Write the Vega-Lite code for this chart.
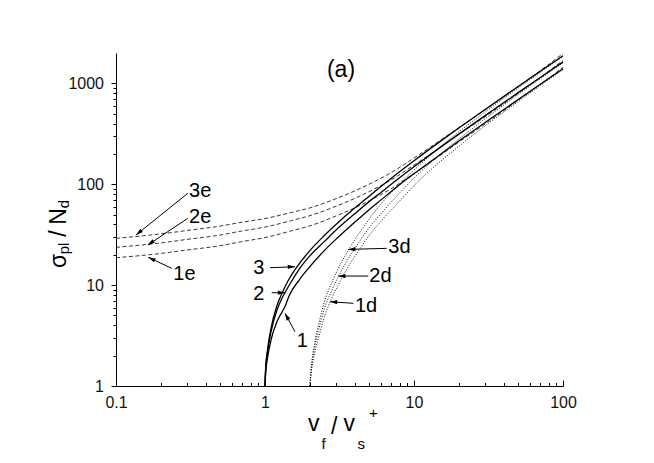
{
  "$schema": "https://vega.github.io/schema/vega-lite/v6.json",
  "width": 447,
  "height": 333,
  "autosize": {"type": "none"},
  "padding": {"left": 116, "top": 53, "right": 91, "bottom": 77},
  "background": "white",
  "config": {
    "view": {"stroke": null},
    "font": "Liberation Sans",
    "axis": {"domainColor": "#000", "tickColor": "#000", "labelColor": "#111", "labelFontWeight": "normal", "domainWidth": 1, "tickWidth": 1, "grid": false, "labelFont": "Liberation Sans", "labelFontSize": 16, "labelFlush": false, "labelOverlap": false}
  },
  "datasets": {
    "solid": [
      {"s":"3","x":1,"y":1},{"s":"3","x":1.01,"y":1.5},{"s":"3","x":1.04,"y":2.3},{"s":"3","x":1.1,"y":3.8},{"s":"3","x":1.2,"y":6.2},{"s":"3","x":1.3,"y":8.3},{"s":"3","x":1.45,"y":11.5},{"s":"3","x":1.63,"y":15},{"s":"3","x":2,"y":22},{"s":"3","x":2.5,"y":31},{"s":"3","x":3.11,"y":42},{"s":"3","x":4,"y":58},{"s":"3","x":4.67,"y":70},{"s":"3","x":6,"y":95},{"s":"3","x":8,"y":133},{"s":"3","x":10,"y":171},{"s":"3","x":15,"y":266},{"s":"3","x":20,"y":361},{"s":"3","x":30,"y":551},{"s":"3","x":50,"y":931},{"s":"3","x":70,"y":1311},{"s":"3","x":100,"y":1880},
      {"s":"2","x":1,"y":1},{"s":"2","x":1.01,"y":1.45},{"s":"2","x":1.04,"y":2.15},{"s":"2","x":1.1,"y":3.5},{"s":"2","x":1.2,"y":5.6},{"s":"2","x":1.3,"y":7.4},{"s":"2","x":1.36,"y":8.4},{"s":"2","x":1.5,"y":10.8},{"s":"2","x":1.73,"y":15},{"s":"2","x":2,"y":19.5},{"s":"2","x":2.5,"y":27},{"s":"2","x":3.11,"y":37},{"s":"2","x":4,"y":51},{"s":"2","x":5.17,"y":70},{"s":"2","x":6,"y":83},{"s":"2","x":8,"y":116},{"s":"2","x":10,"y":149},{"s":"2","x":15,"y":232},{"s":"2","x":20,"y":314},{"s":"2","x":30,"y":479},{"s":"2","x":50,"y":809},{"s":"2","x":70,"y":1139},{"s":"2","x":100,"y":1634},
      {"s":"1","x":1,"y":1},{"s":"1","x":1.01,"y":1.35},{"s":"1","x":1.04,"y":1.9},{"s":"1","x":1.1,"y":2.9},{"s":"1","x":1.2,"y":4.3},{"s":"1","x":1.3,"y":5.4},{"s":"1","x":1.36,"y":6.1},{"s":"1","x":1.455,"y":7.9},{"s":"1","x":1.7,"y":11.3},{"s":"1","x":1.95,"y":14.6},{"s":"1","x":2.5,"y":22},{"s":"1","x":3.11,"y":30},{"s":"1","x":4,"y":42},{"s":"1","x":5,"y":56},{"s":"1","x":5.73,"y":66},{"s":"1","x":8,"y":99},{"s":"1","x":10,"y":127},{"s":"1","x":15,"y":197},{"s":"1","x":20,"y":268},{"s":"1","x":30,"y":409},{"s":"1","x":50,"y":691},{"s":"1","x":70,"y":973},{"s":"1","x":100,"y":1396}
    ],
    "dashed": [
      {"s":"3e","x":0.1,"y":29.1},{"s":"3e","x":0.2,"y":32.2},{"s":"3e","x":0.3,"y":34.8},{"s":"3e","x":0.5,"y":38.5},{"s":"3e","x":0.7,"y":42},{"s":"3e","x":1,"y":45.7},{"s":"3e","x":1.5,"y":52.5},{"s":"3e","x":2,"y":58.3},{"s":"3e","x":3,"y":72},{"s":"3e","x":5,"y":100},{"s":"3e","x":7,"y":130},{"s":"3e","x":10,"y":182},{"s":"3e","x":15,"y":272},{"s":"3e","x":20,"y":365},{"s":"3e","x":30,"y":545},{"s":"3e","x":50,"y":930},{"s":"3e","x":70,"y":1330},{"s":"3e","x":100,"y":1977},
      {"s":"2e","x":0.1,"y":23.7},{"s":"2e","x":0.2,"y":26.2},{"s":"2e","x":0.3,"y":28.4},{"s":"2e","x":0.5,"y":31.4},{"s":"2e","x":0.7,"y":34.4},{"s":"2e","x":1,"y":37.6},{"s":"2e","x":1.5,"y":43.6},{"s":"2e","x":2,"y":48.8},{"s":"2e","x":3,"y":60.5},{"s":"2e","x":5,"y":84.5},{"s":"2e","x":7,"y":110},{"s":"2e","x":10,"y":155},{"s":"2e","x":15,"y":232},{"s":"2e","x":20,"y":312},{"s":"2e","x":30,"y":466},{"s":"2e","x":50,"y":796},{"s":"2e","x":70,"y":1138},{"s":"2e","x":100,"y":1690},
      {"s":"1e","x":0.1,"y":18.7},{"s":"1e","x":0.2,"y":20.6},{"s":"1e","x":0.3,"y":22.3},{"s":"1e","x":0.5,"y":24.6},{"s":"1e","x":0.7,"y":27},{"s":"1e","x":1,"y":29.6},{"s":"1e","x":1.5,"y":34.5},{"s":"1e","x":2,"y":38.7},{"s":"1e","x":3,"y":48.5},{"s":"1e","x":5,"y":68.5},{"s":"1e","x":7,"y":90},{"s":"1e","x":10,"y":128},{"s":"1e","x":15,"y":193},{"s":"1e","x":20,"y":262},{"s":"1e","x":30,"y":395},{"s":"1e","x":50,"y":680},{"s":"1e","x":70,"y":970},{"s":"1e","x":100,"y":1440}
    ],
    "dotted": [
      {"s":"3d","x":2,"y":1},{"s":"3d","x":2.05,"y":1.6},{"s":"3d","x":2.15,"y":2.6},{"s":"3d","x":2.3,"y":4.2},{"s":"3d","x":2.5,"y":6.8},{"s":"3d","x":2.8,"y":10.5},{"s":"3d","x":3.2,"y":16},{"s":"3d","x":3.64,"y":22.4},{"s":"3d","x":4.3,"y":33},{"s":"3d","x":5,"y":45},{"s":"3d","x":5.9,"y":62},{"s":"3d","x":7,"y":82},{"s":"3d","x":8.5,"y":110},{"s":"3d","x":10,"y":138},{"s":"3d","x":15,"y":235},{"s":"3d","x":20,"y":330},{"s":"3d","x":30,"y":520},{"s":"3d","x":50,"y":900},{"s":"3d","x":70,"y":1280},{"s":"3d","x":100,"y":1850},
      {"s":"2d","x":2,"y":1},{"s":"2d","x":2.05,"y":1.5},{"s":"2d","x":2.15,"y":2.4},{"s":"2d","x":2.3,"y":3.7},{"s":"2d","x":2.5,"y":5.8},{"s":"2d","x":2.8,"y":8.8},{"s":"2d","x":3.11,"y":12.2},{"s":"2d","x":3.6,"y":18},{"s":"2d","x":4.3,"y":27},{"s":"2d","x":5,"y":37},{"s":"2d","x":6,"y":51},{"s":"2d","x":7,"y":66},{"s":"2d","x":8.5,"y":90},{"s":"2d","x":10,"y":115},{"s":"2d","x":15,"y":198},{"s":"2d","x":20,"y":280},{"s":"2d","x":30,"y":445},{"s":"2d","x":50,"y":775},{"s":"2d","x":70,"y":1105},{"s":"2d","x":100,"y":1600},
      {"s":"1d","x":2,"y":1},{"s":"1d","x":2.05,"y":1.4},{"s":"1d","x":2.15,"y":2.1},{"s":"1d","x":2.3,"y":3.1},{"s":"1d","x":2.5,"y":4.8},{"s":"1d","x":2.73,"y":6.8},{"s":"1d","x":3.1,"y":10},{"s":"1d","x":3.6,"y":15},{"s":"1d","x":4.3,"y":22.5},{"s":"1d","x":5,"y":31},{"s":"1d","x":6,"y":43},{"s":"1d","x":7,"y":55},{"s":"1d","x":8.5,"y":75},{"s":"1d","x":10,"y":97},{"s":"1d","x":15,"y":168},{"s":"1d","x":20,"y":238},{"s":"1d","x":30,"y":380},{"s":"1d","x":50,"y":660},{"s":"1d","x":70,"y":945},{"s":"1d","x":100,"y":1370}
    ],
    "arrows": [
      {"id":"3e","x1":0.303,"y1":81.2,"x2":0.1362,"y2":31.4,"dir":231},
      {"id":"2e","x1":0.303,"y1":45.9,"x2":0.1632,"y2":24.97,"dir":236},
      {"id":"1e","x1":0.2365,"y1":14.67,"x2":0.1647,"y2":18.86,"dir":295},
      {"id":"3","x1":1.08,"y1":14.87,"x2":1.59,"y2":15.22,"dir":88},
      {"id":"2","x1":1.109,"y1":8.41,"x2":1.362,"y2":8.41,"dir":90},
      {"id":"1","x1":1.59,"y1":3.452,"x2":1.362,"y2":5.254,"dir":331},
      {"id":"3d","x1":6.56,"y1":23.15,"x2":3.62,"y2":22.6,"dir":268},
      {"id":"2d","x1":4.935,"y1":12.3,"x2":3.1,"y2":12.3,"dir":270},
      {"id":"1d","x1":3.914,"y1":6.6,"x2":2.73,"y2":6.85,"dir":274}
    ],
    "labels": [
      {"t":"3e","x":0.309,"y":74.7},
      {"t":"2e","x":0.309,"y":41.0},
      {"t":"1e","x":0.2424,"y":11.23},
      {"t":"3","x":0.8346,"y":12.88},
      {"t":"2","x":0.8346,"y":7.116},
      {"t":"1","x":1.632,"y":2.452},
      {"t":"3d","x":6.72,"y":20.66},
      {"t":"2d","x":5.01,"y":10.81},
      {"t":"1d","x":4.018,"y":5.45}
    ],
    "panel": [{"t":"(a)","x":3.236,"y":1163}],
    "xtb": [
      {"t":"v","x":1.944,"y":0.3585},
      {"t":"/","x":2.773,"y":0.3345},
      {"t":"v","x":3.364,"y":0.3585}
    ],
    "xts": [
      {"t":"f","x":2.394,"y":0.2379},
      {"t":"s","x":4.176,"y":0.2379},
      {"t":"+","x":4.989,"y":0.4818}
    ],
    "ytb": [
      {"t":"σ","x":0.04617,"y":14.77},
      {"t":"/","x":0.04617,"y":30.1},
      {"t":"N","x":0.04617,"y":39.68}
    ],
    "yts": [
      {"t":"pl","x":0.04874,"y":20.24},
      {"t":"d","x":0.04874,"y":57.97}
    ]
  },
  "resolve": {"axis": {"x": "independent", "y": "independent"}},
  "layer": [
    {
      "data": {"name": "dotted"},
      "mark": {"type": "line", "strokeDash": [1, 1.6], "strokeWidth": 1, "color": "#111", "interpolate": "monotone"},
      "encoding": {
        "x": {"field": "x", "type": "quantitative", "scale": {"type": "log", "domain": [0.1, 100], "nice": false}, "axis": null},
        "y": {"field": "y", "type": "quantitative", "scale": {"type": "log", "domain": [1, 2000], "nice": false}, "axis": null},
        "detail": {"field": "s"}
      }
    },
    {
      "data": {"name": "dashed"},
      "mark": {"type": "line", "strokeDash": [4, 2.5], "strokeWidth": 0.9, "color": "#222", "interpolate": "monotone"},
      "encoding": {
        "x": {"field": "x", "type": "quantitative", "scale": {"type": "log", "domain": [0.1, 100], "nice": false}, "axis": null},
        "y": {"field": "y", "type": "quantitative", "scale": {"type": "log", "domain": [1, 2000], "nice": false}, "axis": null},
        "detail": {"field": "s"}
      }
    },
    {
      "data": {"name": "solid"},
      "mark": {"type": "line", "strokeWidth": 1.3, "color": "#000", "interpolate": "monotone"},
      "encoding": {
        "x": {"field": "x", "type": "quantitative", "scale": {"type": "log", "domain": [0.1, 100], "nice": false},
          "axis": {"orient": "bottom", "values": [0.1, 1, 10, 100], "format": "~g", "title": null, "tickSize": -6, "labelPadding": 14}},
        "y": {"field": "y", "type": "quantitative", "scale": {"type": "log", "domain": [1, 2000], "nice": false},
          "axis": {"orient": "left", "values": [1, 10, 100, 1000], "format": "~g", "title": null, "tickSize": 5, "labelPadding": 7.5}},
        "detail": {"field": "s"}
      }
    },
    {
      "data": {"name": "arrows"},
      "mark": {"type": "rule", "strokeWidth": 1, "color": "#000"},
      "encoding": {
        "x": {"field": "x1", "type": "quantitative", "scale": {"type": "log", "domain": [0.1, 100], "nice": false},
          "axis": {"orient": "bottom", "values": [0.2,0.3,0.4,0.5,0.6,0.7,0.8,0.9,2,3,4,5,6,7,8,9,20,30,40,50,60,70,80,90], "labels": false, "domain": false, "title": null, "tickSize": -3.5}},
        "y": {"field": "y1", "type": "quantitative", "scale": {"type": "log", "domain": [1, 2000], "nice": false},
          "axis": {"orient": "left", "values": [2,3,4,5,6,7,8,9,20,30,40,50,60,70,80,90,200,300,400,500,600,700,800,900], "labels": false, "domain": false, "title": null, "tickSize": 3}},
        "x2": {"field": "x2"},
        "y2": {"field": "y2"}
      }
    },
    {
      "data": {"name": "arrows"},
      "mark": {"type": "point", "shape": "M0,0L0.7,2.4L-0.7,2.4Z", "filled": true, "size": 36, "color": "#000", "opacity": 1},
      "encoding": {
        "x": {"field": "x2", "type": "quantitative", "scale": {"type": "log", "domain": [0.1, 100], "nice": false}, "axis": null},
        "y": {"field": "y2", "type": "quantitative", "scale": {"type": "log", "domain": [1, 2000], "nice": false}, "axis": null},
        "angle": {"field": "dir", "type": "quantitative", "scale": null}
      }
    },
    {
      "data": {"name": "labels"},
      "mark": {"type": "text", "align": "left", "baseline": "alphabetic", "fontSize": 20, "font": "Liberation Sans", "color": "#000"},
      "encoding": {
        "x": {"field": "x", "type": "quantitative", "scale": {"type": "log", "domain": [0.1, 100], "nice": false}, "axis": null},
        "y": {"field": "y", "type": "quantitative", "scale": {"type": "log", "domain": [1, 2000], "nice": false}, "axis": null},
        "text": {"field": "t"}
      }
    },
    {
      "data": {"name": "panel"},
      "mark": {"type": "text", "align": "center", "baseline": "alphabetic", "fontSize": 23, "font": "Liberation Sans", "color": "#000"},
      "encoding": {
        "x": {"field": "x", "type": "quantitative", "scale": {"type": "log", "domain": [0.1, 100], "nice": false}, "axis": null},
        "y": {"field": "y", "type": "quantitative", "scale": {"type": "log", "domain": [1, 2000], "nice": false}, "axis": null},
        "text": {"field": "t"}
      }
    },
    {
      "data": {"name": "xtb"},
      "mark": {"type": "text", "align": "left", "baseline": "alphabetic", "fontSize": 23, "font": "Liberation Sans", "color": "#000"},
      "encoding": {
        "x": {"field": "x", "type": "quantitative", "scale": {"type": "log", "domain": [0.1, 100], "nice": false}, "axis": null},
        "y": {"field": "y", "type": "quantitative", "scale": {"type": "log", "domain": [1, 2000], "nice": false}, "axis": null},
        "text": {"field": "t"}
      }
    },
    {
      "data": {"name": "xts"},
      "mark": {"type": "text", "align": "left", "baseline": "alphabetic", "fontSize": 15, "font": "Liberation Sans", "color": "#000"},
      "encoding": {
        "x": {"field": "x", "type": "quantitative", "scale": {"type": "log", "domain": [0.1, 100], "nice": false}, "axis": null},
        "y": {"field": "y", "type": "quantitative", "scale": {"type": "log", "domain": [1, 2000], "nice": false}, "axis": null},
        "text": {"field": "t"}
      }
    },
    {
      "data": {"name": "ytb"},
      "mark": {"type": "text", "align": "left", "baseline": "alphabetic", "angle": 270, "fontSize": 23, "font": "Liberation Sans", "color": "#000"},
      "encoding": {
        "x": {"field": "x", "type": "quantitative", "scale": {"type": "log", "domain": [0.1, 100], "nice": false}, "axis": null},
        "y": {"field": "y", "type": "quantitative", "scale": {"type": "log", "domain": [1, 2000], "nice": false}, "axis": null},
        "text": {"field": "t"}
      }
    },
    {
      "data": {"name": "yts"},
      "mark": {"type": "text", "align": "left", "baseline": "alphabetic", "angle": 270, "fontSize": 15, "font": "Liberation Sans", "color": "#000"},
      "encoding": {
        "x": {"field": "x", "type": "quantitative", "scale": {"type": "log", "domain": [0.1, 100], "nice": false}, "axis": null},
        "y": {"field": "y", "type": "quantitative", "scale": {"type": "log", "domain": [1, 2000], "nice": false}, "axis": null},
        "text": {"field": "t"}
      }
    }
  ]
}
